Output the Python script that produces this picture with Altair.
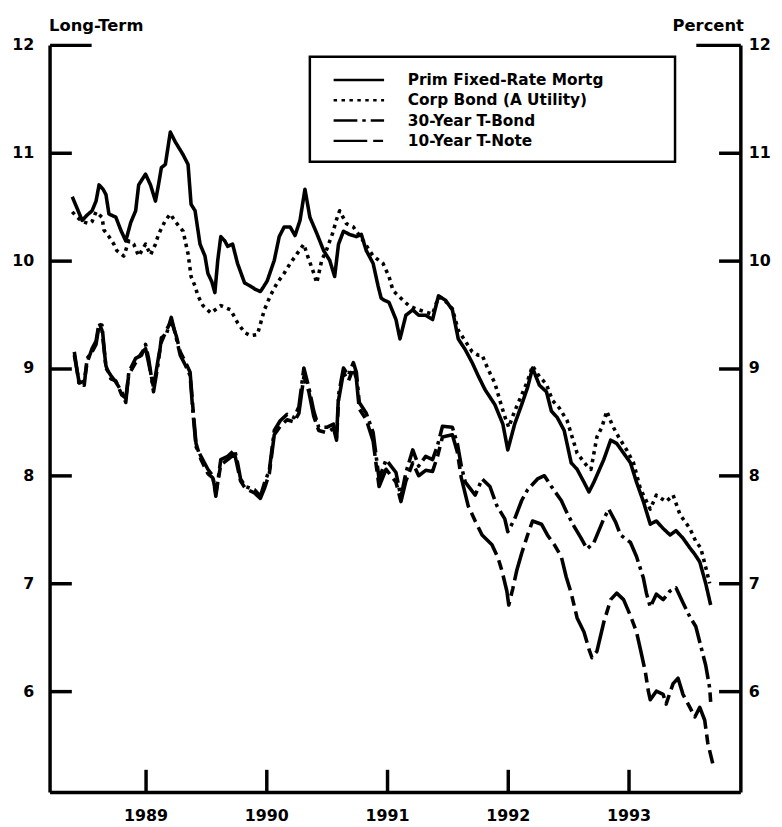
import altair as alt
import pandas as pd

SERIES = ["Prim Fixed-Rate Mortg", "Corp Bond (A Utility)", "30-Year T-Bond", "10-Year T-Note"]
YEAR_TICKS = [1989, 1990, 1991, 1992, 1993]
Y_TICKS = [6, 7, 8, 9, 10, 11, 12]

# (decimal year, percent)
mortgage = [
    (1988.393, 10.59), (1988.434, 10.48), (1988.475, 10.37), (1988.516, 10.42), (1988.557, 10.46),
    (1988.590, 10.55), (1988.615, 10.70), (1988.648, 10.66), (1988.672, 10.61), (1988.697, 10.43),
    (1988.754, 10.40), (1988.795, 10.28), (1988.836, 10.18), (1988.877, 10.35), (1988.918, 10.46),
    (1988.943, 10.70), (1989.000, 10.80), (1989.041, 10.70), (1989.082, 10.55), (1989.107, 10.70),
    (1989.131, 10.86), (1989.164, 10.89), (1989.205, 11.19), (1989.246, 11.10), (1989.311, 10.98),
    (1989.352, 10.89), (1989.377, 10.52), (1989.410, 10.46), (1989.451, 10.15), (1989.492, 10.04),
    (1989.516, 9.88), (1989.549, 9.80), (1989.574, 9.70), (1989.598, 10.00), (1989.623, 10.22),
    (1989.656, 10.18), (1989.680, 10.13), (1989.721, 10.15), (1989.762, 9.97), (1989.820, 9.79),
    (1989.869, 9.76), (1989.910, 9.73), (1989.951, 9.71), (1989.975, 9.75), (1990.008, 9.81),
    (1990.066, 10.00), (1990.107, 10.22), (1990.148, 10.31), (1990.197, 10.31), (1990.238, 10.23),
    (1990.279, 10.37), (1990.320, 10.66), (1990.361, 10.40), (1990.418, 10.25), (1990.475, 10.09),
    (1990.525, 10.00), (1990.566, 9.85), (1990.598, 10.15), (1990.639, 10.27), (1990.689, 10.24),
    (1990.746, 10.22), (1990.787, 10.24), (1990.828, 10.09), (1990.885, 9.97), (1990.926, 9.76),
    (1990.951, 9.65), (1990.975, 9.63), (1991.016, 9.61), (1991.074, 9.45), (1991.107, 9.27),
    (1991.156, 9.49), (1991.213, 9.54), (1991.262, 9.49), (1991.320, 9.49), (1991.377, 9.45),
    (1991.426, 9.67), (1991.484, 9.63), (1991.541, 9.54), (1991.590, 9.27), (1991.648, 9.17),
    (1991.705, 9.05), (1991.754, 8.93), (1991.811, 8.80), (1991.893, 8.66), (1991.959, 8.48),
    (1992.000, 8.24), (1992.057, 8.48), (1992.115, 8.66), (1992.164, 8.82), (1992.205, 9.00),
    (1992.262, 8.84), (1992.320, 8.78), (1992.361, 8.60), (1992.410, 8.54), (1992.467, 8.42),
    (1992.525, 8.12), (1992.574, 8.06), (1992.631, 7.94), (1992.672, 7.85), (1992.713, 7.94),
    (1992.795, 8.15), (1992.852, 8.33), (1992.902, 8.30), (1992.959, 8.21), (1993.016, 8.12),
    (1993.066, 7.94), (1993.123, 7.76), (1993.180, 7.55), (1993.230, 7.58), (1993.287, 7.51),
    (1993.344, 7.45), (1993.393, 7.49), (1993.451, 7.42), (1993.508, 7.33), (1993.549, 7.27),
    (1993.590, 7.20), (1993.639, 7.00), (1993.680, 6.80),
]

corp_bond = [
    (1988.393, 10.45), (1988.434, 10.40), (1988.475, 10.36), (1988.533, 10.34), (1988.557, 10.36),
    (1988.590, 10.45), (1988.639, 10.40), (1988.656, 10.28), (1988.697, 10.22), (1988.738, 10.15),
    (1988.762, 10.09), (1988.820, 10.04), (1988.861, 10.18), (1988.902, 10.15), (1988.943, 10.04),
    (1989.000, 10.15), (1989.041, 10.05), (1989.082, 10.15), (1989.107, 10.24), (1989.164, 10.37),
    (1989.205, 10.43), (1989.246, 10.36), (1989.311, 10.27), (1989.352, 10.06), (1989.377, 9.85),
    (1989.410, 9.76), (1989.434, 9.67), (1989.475, 9.58), (1989.541, 9.51), (1989.623, 9.58),
    (1989.705, 9.54), (1989.762, 9.42), (1989.820, 9.33), (1989.869, 9.30), (1989.926, 9.31),
    (1989.984, 9.54), (1990.033, 9.67), (1990.090, 9.79), (1990.148, 9.88), (1990.197, 9.97),
    (1990.254, 10.06), (1990.311, 10.15), (1990.336, 10.06), (1990.393, 9.88), (1990.418, 9.79),
    (1990.459, 10.00), (1990.500, 10.10), (1990.549, 10.25), (1990.582, 10.38), (1990.607, 10.46),
    (1990.664, 10.34), (1990.721, 10.31), (1990.803, 10.18), (1990.885, 10.04), (1990.967, 9.97),
    (1991.016, 9.85), (1991.049, 9.72), (1991.131, 9.63), (1991.180, 9.58), (1991.238, 9.55),
    (1991.320, 9.52), (1991.377, 9.50), (1991.426, 9.66), (1991.484, 9.62), (1991.541, 9.55),
    (1991.590, 9.35), (1991.648, 9.25), (1991.705, 9.15), (1991.754, 9.12), (1991.787, 9.12),
    (1991.836, 8.99), (1991.893, 8.86), (1991.934, 8.70), (1991.975, 8.55), (1992.008, 8.45),
    (1992.057, 8.60), (1992.115, 8.75), (1992.164, 8.88), (1992.205, 9.02), (1992.262, 8.92),
    (1992.320, 8.85), (1992.369, 8.70), (1992.426, 8.63), (1992.492, 8.51), (1992.533, 8.36),
    (1992.574, 8.21), (1992.615, 8.15), (1992.656, 8.09), (1992.689, 8.06), (1992.738, 8.36),
    (1992.779, 8.45), (1992.820, 8.60), (1992.861, 8.48), (1992.902, 8.39), (1992.984, 8.24),
    (1993.041, 8.12), (1993.098, 7.88), (1993.180, 7.69), (1993.230, 7.82), (1993.311, 7.76),
    (1993.369, 7.82), (1993.426, 7.64), (1993.508, 7.51), (1993.557, 7.39), (1993.598, 7.33),
    (1993.639, 7.15), (1993.672, 7.00),
]

tbond_30y = [
    (1988.410, 9.15), (1988.451, 8.84), (1988.492, 8.84), (1988.516, 9.09), (1988.557, 9.15),
    (1988.590, 9.22), (1988.615, 9.40), (1988.639, 9.40), (1988.672, 9.00), (1988.713, 8.93),
    (1988.754, 8.87), (1988.803, 8.78), (1988.836, 8.68), (1988.861, 8.96), (1988.918, 9.09),
    (1988.967, 9.12), (1989.000, 9.22), (1989.025, 9.09), (1989.066, 8.78), (1989.107, 9.06),
    (1989.131, 9.28), (1989.172, 9.31), (1989.213, 9.47), (1989.254, 9.28), (1989.287, 9.12),
    (1989.328, 9.03), (1989.369, 8.93), (1989.393, 8.58), (1989.418, 8.27), (1989.459, 8.18),
    (1989.516, 8.06), (1989.557, 8.00), (1989.582, 7.81), (1989.623, 8.15), (1989.680, 8.18),
    (1989.738, 8.24), (1989.762, 8.12), (1989.787, 7.97), (1989.828, 7.90), (1989.902, 7.87),
    (1989.951, 7.81), (1989.984, 7.93), (1990.025, 8.05), (1990.066, 8.42), (1990.115, 8.51),
    (1990.172, 8.57), (1990.230, 8.54), (1990.270, 8.64), (1990.311, 9.00), (1990.352, 8.82),
    (1990.393, 8.60), (1990.434, 8.45), (1990.500, 8.45), (1990.557, 8.48), (1990.582, 8.36),
    (1990.598, 8.75), (1990.639, 9.00), (1990.680, 8.93), (1990.721, 9.05), (1990.746, 8.96),
    (1990.770, 8.68), (1990.828, 8.58), (1990.885, 8.40), (1990.910, 8.18), (1990.934, 7.97),
    (1990.992, 8.15), (1991.074, 8.03), (1991.115, 7.80), (1991.156, 8.03), (1991.213, 8.24),
    (1991.262, 8.09), (1991.320, 8.18), (1991.377, 8.15), (1991.418, 8.28), (1991.459, 8.46),
    (1991.541, 8.45), (1991.582, 8.30), (1991.615, 8.09), (1991.648, 7.94), (1991.730, 7.82),
    (1991.787, 7.97), (1991.852, 7.90), (1991.910, 7.72), (1991.975, 7.60), (1992.000, 7.48),
    (1992.057, 7.60), (1992.115, 7.77), (1992.164, 7.87), (1992.246, 7.97), (1992.303, 8.00),
    (1992.361, 7.90), (1992.443, 7.77), (1992.492, 7.65), (1992.549, 7.53), (1992.607, 7.42),
    (1992.656, 7.32), (1992.713, 7.38), (1992.795, 7.60), (1992.836, 7.69), (1992.893, 7.57),
    (1992.934, 7.45), (1993.016, 7.38), (1993.066, 7.25), (1993.123, 7.05), (1993.148, 6.91),
    (1993.180, 6.78), (1993.230, 6.90), (1993.287, 6.85), (1993.344, 6.93), (1993.393, 6.96),
    (1993.451, 6.82), (1993.508, 6.69), (1993.557, 6.60), (1993.598, 6.42), (1993.639, 6.24),
    (1993.672, 6.03), (1993.680, 5.90),
]

tnote_10y = [
    (1988.410, 9.12), (1988.451, 8.86), (1988.492, 8.88), (1988.516, 9.05), (1988.557, 9.18),
    (1988.590, 9.25), (1988.615, 9.42), (1988.639, 9.35), (1988.672, 9.02), (1988.713, 8.90),
    (1988.754, 8.88), (1988.803, 8.75), (1988.836, 8.72), (1988.861, 8.94), (1988.918, 9.05),
    (1988.967, 9.14), (1989.000, 9.18), (1989.025, 9.05), (1989.066, 8.82), (1989.107, 9.10),
    (1989.131, 9.24), (1989.172, 9.35), (1989.213, 9.44), (1989.254, 9.30), (1989.287, 9.15),
    (1989.328, 9.06), (1989.369, 8.96), (1989.393, 8.62), (1989.418, 8.30), (1989.459, 8.15),
    (1989.516, 8.02), (1989.557, 7.98), (1989.582, 7.84), (1989.623, 8.10), (1989.680, 8.15),
    (1989.738, 8.20), (1989.762, 8.08), (1989.787, 7.95), (1989.828, 7.88), (1989.902, 7.84),
    (1989.951, 7.79), (1989.984, 7.88), (1990.025, 8.02), (1990.066, 8.38), (1990.115, 8.46),
    (1990.172, 8.52), (1990.230, 8.50), (1990.270, 8.58), (1990.311, 8.92), (1990.352, 8.78),
    (1990.393, 8.55), (1990.434, 8.42), (1990.500, 8.40), (1990.557, 8.44), (1990.582, 8.33),
    (1990.598, 8.70), (1990.639, 8.96), (1990.680, 8.88), (1990.721, 9.00), (1990.746, 8.90),
    (1990.770, 8.62), (1990.828, 8.52), (1990.885, 8.32), (1990.910, 8.10), (1990.934, 7.90),
    (1990.992, 8.06), (1991.074, 7.94), (1991.115, 7.76), (1991.156, 7.95), (1991.213, 8.12),
    (1991.262, 8.00), (1991.320, 8.05), (1991.377, 8.04), (1991.418, 8.18), (1991.459, 8.36),
    (1991.541, 8.38), (1991.582, 8.22), (1991.615, 7.98), (1991.672, 7.72), (1991.730, 7.58),
    (1991.787, 7.45), (1991.869, 7.36), (1991.918, 7.24), (1991.951, 7.12), (1991.992, 6.93),
    (1992.008, 6.80), (1992.041, 6.95), (1992.074, 7.12), (1992.115, 7.28), (1992.164, 7.45),
    (1992.205, 7.58), (1992.279, 7.55), (1992.328, 7.45), (1992.385, 7.36), (1992.443, 7.25),
    (1992.484, 7.06), (1992.525, 6.91), (1992.574, 6.68), (1992.631, 6.55), (1992.672, 6.39),
    (1992.697, 6.31), (1992.738, 6.37), (1992.795, 6.64), (1992.852, 6.85), (1992.902, 6.91),
    (1992.959, 6.85), (1993.016, 6.70), (1993.066, 6.55), (1993.098, 6.39), (1993.139, 6.18),
    (1993.164, 6.00), (1993.180, 5.92), (1993.230, 6.00), (1993.287, 5.97), (1993.311, 5.88),
    (1993.369, 6.07), (1993.410, 6.12), (1993.451, 5.97), (1993.508, 5.85), (1993.549, 5.76),
    (1993.590, 5.85), (1993.631, 5.73), (1993.656, 5.52), (1993.697, 5.33),
]

rows = []
for name, pts in zip(SERIES, [mortgage, corp_bond, tbond_30y, tnote_10y]):
    for t, v in pts:
        rows.append({"series": name, "t": t, "v": v})
df = pd.DataFrame(rows)

FONT = "DejaVu Sans"
DASHES = [[1, 0], [3.5, 4.5], [24, 5, 3.5, 5], [34, 6, 10, 6]]

x_scale = alt.Scale(domain=[1988.205, 1993.926], nice=False, zero=False)
y_scale = alt.Scale(domain=[5.063, 12], nice=False, zero=False)

lab = dict(labelFont=FONT, labelFontSize=16, labelFontWeight="bold", labelColor="black")
ttl = dict(titleFont=FONT, titleFontSize=16.5, titleFontWeight="bold", titleColor="black")

x_main = alt.Axis(orient="bottom", values=YEAR_TICKS, format="d", ticks=False, tickSize=0,
                  domain=True, domainColor="black", domainWidth=3.5, grid=False, title=None,
                  labelPadding=16, labelFlush=False, **lab)
x_ticks = alt.Axis(orient="bottom", values=YEAR_TICKS, offset=-23, tickSize=23, tickWidth=3.5,
                   tickColor="black", labels=False, domain=False, grid=False, title=None)

y_left = alt.Axis(orient="left", values=Y_TICKS, ticks=False, tickSize=0, domain=True,
                  domainColor="black", domainWidth=3.5, grid=False, labelPadding=16,
                  title="Long-Term", titleAngle=0, titleAlign="left", titleBaseline="alphabetic",
                  titleX=-1, titleY=-15, **lab, **ttl)
y_right = alt.Axis(orient="right", values=Y_TICKS, ticks=False, tickSize=0, domain=True,
                   domainColor="black", domainWidth=3.5, grid=False, labelPadding=8,
                   title="Percent", titleAngle=0, titleAlign="right", titleBaseline="alphabetic",
                   titleX=3, titleY=-15, **lab, **ttl)
y_left_ticks = alt.Axis(orient="left", values=Y_TICKS[:-1], offset=-22, tickSize=22, tickWidth=3.5,
                        tickColor="black", labels=False, domain=False, grid=False, title=None)
y_right_ticks = alt.Axis(orient="right", values=Y_TICKS[:-1], offset=-22, tickSize=22, tickWidth=3.5,
                         tickColor="black", labels=False, domain=False, grid=False, title=None)
y_left_top = alt.Axis(orient="left", values=[12], offset=-42, tickSize=42, tickWidth=3.5,
                      tickColor="black", labels=False, domain=False, grid=False, title=None)
y_right_top = alt.Axis(orient="right", values=[12], offset=-45, tickSize=45, tickWidth=3.5,
                       tickColor="black", labels=False, domain=False, grid=False, title=None)

# trailing non-breaking spaces (kept from trimming by a zero-width space) widen the legend box
PAD = "\u00a0" * 11 + "\u200b"
legend = alt.Legend(orient="none", legendX=263, legendY=12, title=None,
                    symbolType="M-2.55,0H2.55", symbolSize=400, symbolStrokeWidth=2.5,
                    symbolStrokeColor="black", symbolOffset=26,
                    labelFont=FONT, labelFontSize=15.5, labelFontWeight="bold", labelColor="black",
                    labelLimit=600, labelOffset=38, padding=12, rowPadding=0.5,
                    strokeColor="black", fillColor="white",
                    labelExpr=f"datum.label + '{PAD}'")

dash = alt.StrokeDash("series:N", scale=alt.Scale(domain=SERIES, range=DASHES),
                      sort=SERIES, legend=legend)

base = alt.Chart(df)


def layer(series_name, xaxis, yaxis, opacity=1.0):
    return base.transform_filter(alt.datum.series == series_name).mark_line(
        color="black", strokeWidth=3.6, strokeJoin="round", opacity=opacity
    ).encode(
        x=alt.X("t:Q", scale=x_scale, axis=xaxis),
        y=alt.Y("v:Q", scale=y_scale, axis=yaxis),
        strokeDash=dash,
        order=alt.Order("t:Q"),
    )


chart = alt.layer(
    layer(SERIES[3], x_main, y_left),
    layer(SERIES[2], x_ticks, y_right),
    layer(SERIES[1], None, y_left_ticks),
    layer(SERIES[0], None, y_right_ticks),
    layer(SERIES[0], None, y_left_top, opacity=0),
    layer(SERIES[0], None, y_right_top, opacity=0),
).resolve_axis(x="independent", y="independent").properties(
    width=698, height=755,
    autosize=alt.AutoSizeParams(type="none"),
    padding={"left": 42, "top": 33, "right": 34, "bottom": 30},
).configure_view(stroke=None).configure_legend(strokeWidth=2.5)

chart.save("out.html", embed_options={"renderer": "svg", "actions": False})
